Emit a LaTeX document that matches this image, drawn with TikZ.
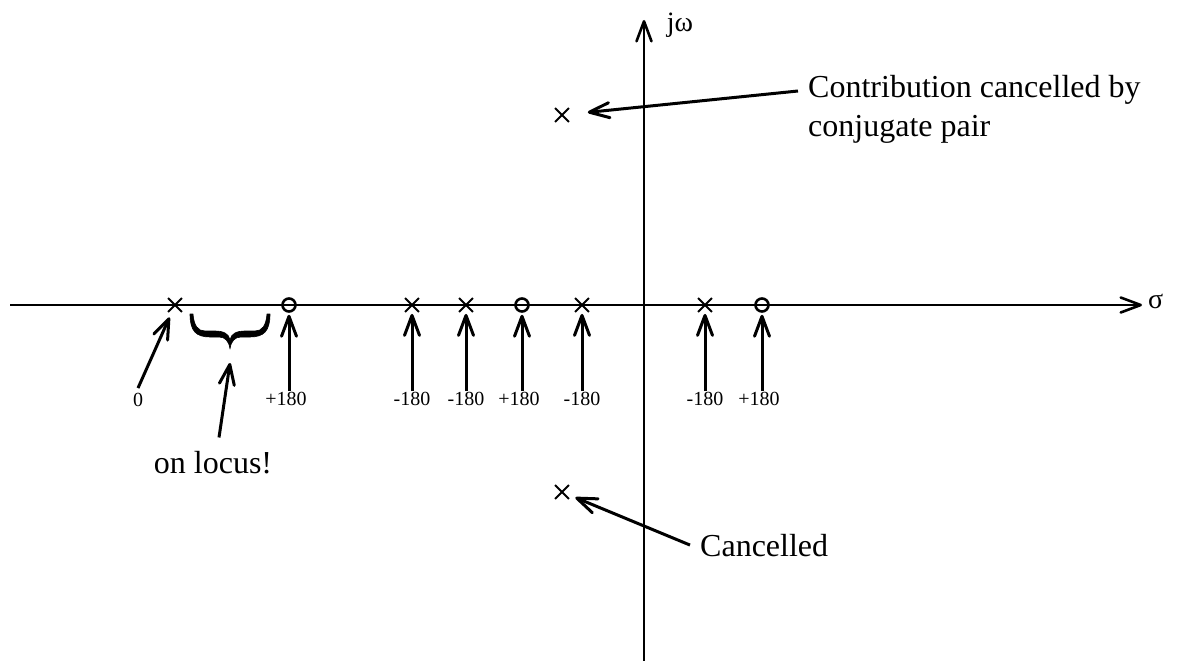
\documentclass[tikz,border=0pt]{standalone}
\usepackage{fontspec}
\setmainfont{Liberation Serif}
\usetikzlibrary{arrows.meta,shapes.misc}
\begin{document}
\begin{tikzpicture}[x=1pt,y=-1pt,
  axis/.style={line width=2.6pt,-{Straight Barb[length=20pt,width=15pt,round]}},
  arr/.style={line width=3pt,-{Straight Barb[length=20pt,width=15pt,round]}},
  pole/.style={cross out,draw,minimum size=12pt,inner sep=0pt,line width=1.8pt},
  zero/.style={circle,draw,minimum size=13pt,inner sep=0pt,line width=2.6pt},
  lbl/.style={font=\fontsize{20}{24}\selectfont,inner sep=1pt},
  big/.style={font=\fontsize{32}{39}\selectfont,inner sep=0pt},
  greek/.style={font=\fontsize{28}{32}\selectfont,inner sep=0pt},
  bracefill/.style={fill=black,draw=black,line width=0.6pt,line join=round}]
\useasboundingbox (0,0) rectangle (1178,661);
% axes
\coordinate (xl) at (10,305);
\coordinate (xr) at (1142,305);
\coordinate (yb) at (644,661);
\coordinate (yt) at (644,20);
\draw[axis] (xl) -- (xr);
\draw[axis] (yb) -- (yt);
\node[greek,anchor=west] (sig) at (1148,301) {σ};
\node[greek] (jw) at (680,25) {jω};
% poles and zeros on the real axis
\node[pole] (p1) at (175,305) {};
\node[pole] (p2) at (412,305) {};
\node[pole] (p3) at (466,305) {};
\node[pole] (p4) at (582,305) {};
\node[pole] (p5) at (705,305) {};
\node[zero] (z1) at (289,305) {};
\node[zero] (z2) at (522,305) {};
\node[zero] (z3) at (762,305) {};
% complex pair
\node[pole] (pu) at (562,115) {};
\node[pole] (pl) at (562,492) {};
% angle labels
\node[lbl] (l0) at (138,400) {0};
\node[lbl] (l1) at (286,399) {+180};
\node[lbl] (l2) at (412,399) {-180};
\node[lbl] (l3) at (466,399) {-180};
\node[lbl] (l4) at (519,399) {+180};
\node[lbl] (l5) at (582,399) {-180};
\node[lbl] (l6) at (705,399) {-180};
\node[lbl] (l7) at (759,399) {+180};
\draw[arr,shorten >=6pt] ([yshift=4pt]l0.north) -- (p1);
\draw[arr,shorten >=2pt] (l1.north -| z1) -- (z1);
\draw[arr,shorten >=2pt] (l2.north) -- (p2);
\draw[arr,shorten >=2pt] (l3.north) -- (p3);
\draw[arr,shorten >=2pt] (l4.north -| z2) -- (z2);
\draw[arr,shorten >=2pt] (l5.north) -- (p4);
\draw[arr,shorten >=2pt] (l6.north) -- (p5);
\draw[arr,shorten >=2pt] (l7.north -| z3) -- (z3);
% brace and on locus
\fill[bracefill] (190,314) .. controls (190,331) and (196,337) .. (210,337)
  -- (219,337) .. controls (225,337) and (229,341) .. (230,349)
  .. controls (231,341) and (235,337) .. (241,337)
  -- (250,337) .. controls (264,337) and (270,331) .. (270,314)
  -- (267,314) .. controls (266,326) and (262,331) .. (255,331)
  -- (245,331) .. controls (236,331) and (231,334) .. (230,340)
  .. controls (229,334) and (224,331) .. (215,331)
  -- (205,331) .. controls (198,331) and (194,326) .. (193,314) -- cycle;
\coordinate (bracetip) at (230,363);
\node[big] (loc) at (213,463) {on locus!};
\draw[arr] ([xshift=6pt,yshift=14pt]loc.north) -- (bracetip);
% annotations
\node[big,align=left,anchor=north west] (con) at (808,75) {Contribution cancelled by\\conjugate pair};
\coordinate (ct) at (798,91);
\draw[arr,shorten >=19pt] (ct) -- (pu);
\node[big,anchor=base west] (can) at (700,556) {Cancelled};
\draw[arr,shorten >=7pt] ([xshift=-10pt]can.west) -- (pl);
\end{tikzpicture}
\end{document}
